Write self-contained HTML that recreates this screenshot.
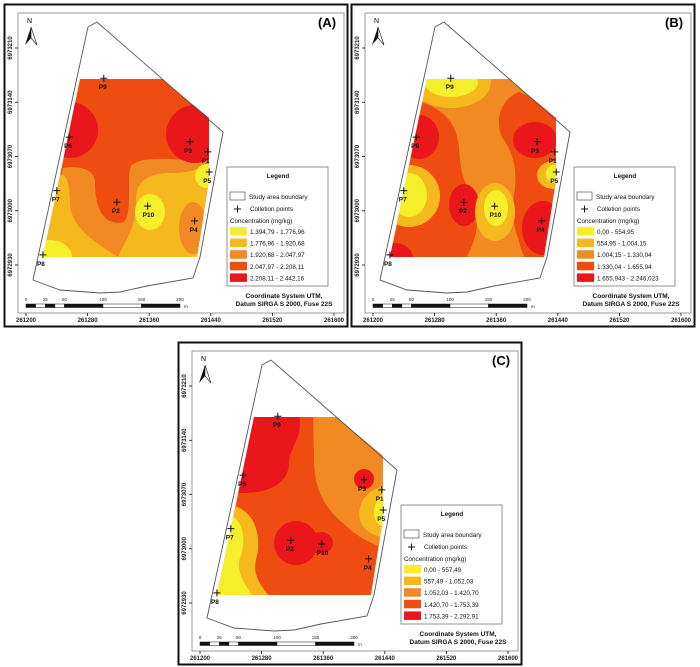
<!DOCTYPE html>
<html><head><meta charset="utf-8">
<style>
html,body{margin:0;padding:0;background:#fff;}
svg{display:block;font-family:"Liberation Sans",Arial,sans-serif;}
.lbl{font-size:6.5px;font-weight:bold;fill:#111;}
.ax{font-size:6px;fill:#222;font-weight:bold;}
.lg{font-size:6.3px;fill:#111;}
</style></head>
<body>
<svg id="svg" width="700" height="667" viewBox="0 0 700 667">
<defs>
  <clipPath id="cr"><path d="M80,79 L162,79 L209,118 L209,180 L197,257 L43,257 Z"/></clipPath>
  <g id="frame">
    <rect x="4.5" y="4.5" width="343" height="322" fill="#fff" stroke="#111" stroke-width="2"/>
    <rect x="18" y="13" width="326" height="300" fill="#fff" stroke="#999" stroke-width="1"/>
  </g>
</defs>

<!-- Panel A -->
<g id="panelA">
  <use href="#frame"/>
  <g clip-path="url(#cr)">
    <rect x="40" y="75" width="175" height="185" fill="#ef4c12"/>
    <path d="M43,257 L63,168 C80,165 95,170 95,182 C95,215 108,226 124,222 C133,212 126,178 131,166 C141,155 175,160 190,160 L209,155 L209,257 Z" fill="#f18a22"/>
    <path d="M43,257 L60,175 C68,172 70,190 70,205 C72,230 100,245 118,257 Z" fill="#f5b91e"/>
    <path d="M118,257 C125,240 136,230 136,200 C136,180 150,172 175,173 C190,173 200,168 209,165 L209,257 Z" fill="#f5b91e"/>
    <ellipse cx="193" cy="228" rx="14" ry="26" fill="#f18a22"/>
    <ellipse cx="150" cy="212" rx="15" ry="18" fill="#f4ef2a"/>
    <ellipse cx="207" cy="176" rx="12" ry="12" fill="#f4ef2a"/>
    <ellipse cx="50" cy="257" rx="22" ry="17" fill="#f4ef2a"/>
    <circle cx="70" cy="130" r="28" fill="#e9171b"/>
    <circle cx="195" cy="134" r="29" fill="#e9171b"/>
  </g>
  <text x="318" y="27" font-size="13" font-weight="bold">(A)</text>
</g>

<!-- Panel B -->
<g id="panelB" transform="translate(347,0)">
  <use href="#frame"/>
  <g clip-path="url(#cr)">
    <rect x="40" y="75" width="175" height="185" fill="#f18a22"/>
    <path d="M40,95 C60,100 95,100 108,130 C116,150 108,170 125,195 C135,215 130,240 118,260 L40,260 Z" fill="#ef4c12"/>
    <path d="M172,92 C152,100 148,122 155,137 C165,152 170,165 168,188 C165,205 165,220 170,235 C174,248 176,257 180,260 L215,260 L215,110 Z" fill="#ef4c12"/>
    <ellipse cx="72" cy="137" rx="20" ry="22" fill="#e9171b"/>
    <ellipse cx="188" cy="140" rx="22" ry="18" fill="#e9171b"/>
    <ellipse cx="117" cy="205" rx="15" ry="21" fill="#e9171b"/>
    <ellipse cx="196" cy="228" rx="21" ry="27" fill="#e9171b"/>
    <ellipse cx="48" cy="258" rx="18" ry="15" fill="#e9171b"/>
    <ellipse cx="104" cy="82" rx="40" ry="26" fill="#f5b91e"/>
    <ellipse cx="62" cy="196" rx="31" ry="31" fill="#f5b91e"/>
    <ellipse cx="148" cy="212" rx="20" ry="29" fill="#f5b91e"/>
    <ellipse cx="206" cy="175" rx="16" ry="14" fill="#f5b91e"/>
    <ellipse cx="104" cy="82" rx="27" ry="15" fill="#f4ef2a"/>
    <ellipse cx="62" cy="195" rx="18" ry="22" fill="#f4ef2a"/>
    <ellipse cx="149" cy="208" rx="12" ry="18" fill="#f4ef2a"/>
    <ellipse cx="207" cy="174" rx="8" ry="9" fill="#f4ef2a"/>
  </g>
  <text x="318" y="27" font-size="13" font-weight="bold">(B)</text>
</g>

<!-- Panel C -->
<g id="panelC" transform="translate(174,338)">
  <use href="#frame"/>
  <g clip-path="url(#cr)">
    <rect x="40" y="75" width="175" height="185" fill="#ef4c12"/>
    <path d="M139,75 L215,75 L215,212 C195,205 182,198 170,186 C150,170 140,150 140,120 Z" fill="#f18a22"/>
    <path d="M215,148 C195,148 182,165 186,182 C190,195 205,200 215,200 Z" fill="#f5b91e"/>
    <path d="M60,168 C82,174 88,200 82,222 C78,240 90,250 96,260 L40,260 Z" fill="#f5b91e"/>
    <path d="M215,155 C205,155 200,165 200,175 C200,185 207,190 215,190 Z" fill="#f4ef2a"/>
    <path d="M58,178 C70,184 72,205 66,220 C61,235 74,250 80,260 L40,260 Z" fill="#f4ef2a"/>
    <path d="M75,75 L125,75 C130,100 115,110 115,125 C115,145 95,155 70,155 L55,155 Z" fill="#e9171b"/>
    <circle cx="190" cy="141" r="10" fill="#e9171b"/>
    <ellipse cx="122" cy="205" rx="22" ry="22" fill="#e9171b"/>
    <ellipse cx="147" cy="205" rx="12" ry="11" fill="#e9171b"/>
  </g>
  <text x="318" y="27" font-size="13" font-weight="bold">(C)</text>
</g>
</svg>

<script>
// Collection point coordinates (UTM, metres)
const pointNames = ["P9","P6","P3","P1","P5","P7","P2","P10","P4","P8"];
const eastings  = [261301,261256,261413,261436,261438,261240,261318,261358,261419,261222];
const northings = [6973171,6973095,6973089,6973076,6973050,6973026,6973011,6973006,6972987,6972943];
const xTicks = [261200,261280,261360,261440,261520,261600];
const yTicks = [6973210,6973140,6973070,6973000,6972930];
const legendA = ["1.394,79 - 1.776,96","1.776,96 - 1.920,68","1.920,68 - 2.047,97","2.047,97 - 2.208,11","2.208,11 - 2.442,16"];
const legendB = ["0,00 - 554,95","554,95 - 1.004,15","1.004,15 - 1.330,04","1.330,04 - 1.655,94","1.655,943 - 2.246,023"];
const legendC = ["0,00 - 557,49","557,49 - 1.052,03","1.052,03 - 1.420,70","1.420,70 - 1.753,39","1.753,39 - 2.292,91"];
const classColors = ["#f4ef2a","#f5b91e","#f18a22","#ef4c12","#e9171b"];
const scaleLabels = ["0","25","50","100","150","200"];
const scaleMetres = [0,25,50,100,150,200];

const NS = "http://www.w3.org/2000/svg";
function xScale(e){ return 26 + (e - 261200) / 80 * 61.6; }
function yScale(n){ return 48 + (6973210 - n) / 70 * 54.25; }
function mk(tag, attrs, parent){ const el=document.createElementNS(NS,tag); for(const k in attrs) el.setAttribute(k,attrs[k]); parent.appendChild(el); return el; }

const labelOff = {P1:[-6,11],P5:[-6,11],P3:[-6,11],P8:[-6,11]};

function decorate(g, legendVals, suffix){
  // boundary
  const b = mk('path',{d:"M88,27 L97,22 L223,132 L200,257 L193,278 L147,286 L120,292 L100,293 L60,290 L33,280 Z",fill:"none",stroke:"#555","stroke-width":"0.9"},g);
  
  
  // north arrow
  const na = mk('g',{},g);
  
  
  mk('text',{x:27,y:23,"font-size":"7"},na).textContent="N";
  mk('path',{d:"M31,27 L25,45 L31,38 Z",fill:"#111"},na);
  mk('path',{d:"M31,27 L37,45 L31,38 Z",fill:"#fff",stroke:"#111","stroke-width":"0.6"},na);
  // axes ticks
  for(let i=0;i<xTicks.length;i++){
    const x=xScale(xTicks[i]);
    mk('line',{x1:x,y1:313,x2:x,y2:316,stroke:"#111","stroke-width":"0.8"},g);
    const t=mk('text',{x:x,y:322,"text-anchor":"middle",class:"ax"},g);
    t.textContent=xTicks[i];
    
    
  }
  for(let i=0;i<yTicks.length;i++){
    const y=yScale(yTicks[i]);
    mk('line',{x1:15,y1:y,x2:18,y2:y,stroke:"#111","stroke-width":"0.8"},g);
    const t=mk('text',{x:12,y:y,"text-anchor":"middle",class:"ax",transform:`rotate(-90 12 ${y})`},g);
    t.textContent=yTicks[i];
    
    
  }
  // points
  for(let i=0;i<pointNames.length;i++){
    const x=xScale(eastings[i]), y=yScale(northings[i]);
    const p=mk('g',{},g);
    
    
    mk('path',{d:`M${x-3.5},${y} H${x+3.5} M${x},${y-3.5} V${y+3.5}`,stroke:"#111","stroke-width":"1"},p);
    const o=labelOff[pointNames[i]]||[-5,11];
    mk('text',{x:x+o[0],y:y+o[1],class:"lbl"},p).textContent=pointNames[i];
  }
  // legend
  const lg=mk('g',{},g);
  
  
  mk('rect',{x:227,y:167,width:101,height:119,fill:"#fff",stroke:"#777","stroke-width":"0.8"},lg);
  mk('text',{x:278,y:178,"text-anchor":"middle",class:"lg","font-weight":"bold"},lg).textContent="Legend";
  mk('rect',{x:230,y:192,width:15,height:8,fill:"#fff",stroke:"#555","stroke-width":"0.7"},lg);
  mk('text',{x:249,y:199,class:"lg"},lg).textContent="Study area boundary";
  mk('path',{d:"M234,209 H241 M237.5,205.5 V212.5",stroke:"#111","stroke-width":"1"},lg);
  mk('text',{x:250,y:211,class:"lg"},lg).textContent="Colletion points";
  mk('text',{x:230,y:223,class:"lg"},lg).textContent="Concentration (mg/kg)";
  for(let i=0;i<legendVals.length;i++){
    const y=227+i*11.6;
    const e=mk('g',{},lg);
    
    
    mk('rect',{x:230,y:y,width:17,height:8.5,fill:classColors[i]},e);
    mk('text',{x:250,y:y+7,class:"lg"},e).textContent=legendVals[i];
  }
  // scale bar
  const sb=mk('g',{},g);
  
  
  const segs=[0,12.5,25,37.5,50,100,150,200];
  for(let i=0;i<segs.length-1;i++){
    const x1=26+segs[i]*0.77, x2=26+segs[i+1]*0.77;
    mk('rect',{x:x1,y:304,width:x2-x1,height:3.5,fill:i%2?"#fff":"#111",stroke:"#111","stroke-width":"0.5"},sb);
  }
  for(let i=0;i<scaleLabels.length;i++){
    mk('text',{x:26+scaleMetres[i]*0.77,y:301,"text-anchor":"middle","font-size":"4.5",fill:"#222"},sb).textContent=scaleLabels[i];
  }
  mk('text',{x:184,y:308,"font-size":"4.5",fill:"#222"},sb).textContent="m";
  const c1=mk('text',{x:284,y:298,"text-anchor":"middle",class:"lbl"},g);
  c1.textContent="Coordinate System UTM,";
  
  
  mk('text',{x:284,y:306,"text-anchor":"middle",class:"lbl"},g).textContent="Datum SIRGA S 2000, Fuse 22S";
}
decorate(document.getElementById('panelA'),legendA,'a');
decorate(document.getElementById('panelB'),legendB,'b');
decorate(document.getElementById('panelC'),legendC,'c');
</script>
</body></html>
